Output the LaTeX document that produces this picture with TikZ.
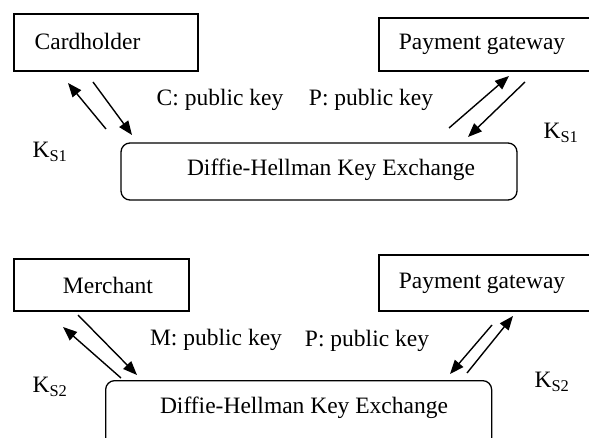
\documentclass[tikz,border=0pt]{standalone}
\usepackage{fontspec}
\setmainfont{Liberation Serif}
\usetikzlibrary{arrows.meta}
\begin{document}
\begin{tikzpicture}[x=1pt,y=-1pt,
  lbl/.style={font=\fontsize{23.5}{26}\selectfont, inner sep=0pt},
  party/.style={draw, line width=1.8pt, inner sep=0pt},
  dhbox/.style={draw, line width=1.3pt, rounded corners=9pt, inner sep=0pt},
  arr/.style={line width=1.4pt, -{Triangle[length=14pt,width=11pt]}}
]
\useasboundingbox (0,0) rectangle (589,438);
\clip (0,0) rectangle (589,438);
% ---------- top part ----------
\node[party, minimum width=184pt, minimum height=57pt] (card) at (106,42.5) {};
\node[lbl] (cardt) at (87.5,41) {Cardholder};
\node[party, minimum width=220pt, minimum height=53pt, anchor=west] (pg1) at (378,44.5) {};
\node[lbl] (pg1t) at (482,44) {Payment gateway};
\node[dhbox, minimum width=396pt, minimum height=57pt] (dh1) at (319,171.5) {};
\node[lbl] (dh1t) at (331,170) {Diffie-Hellman Key Exchange};
\node[lbl] (cpk) at (220,100) {C: public key};
\node[lbl] (ppk1) at (371,100) {P: public key};
\node[lbl] (ks1a) at (50,152) {K\textsubscript{S1}};
\node[lbl] (ks1b) at (561,133) {K\textsubscript{S1}};
\coordinate (a1s) at (106,129); \coordinate (a1e) at (68,83);
\coordinate (a2s) at (93,82);   \coordinate (a2e) at (132,135);
\coordinate (a3s) at (449,128); \coordinate (a3e) at (509,76);
\coordinate (a4s) at (525,82);  \coordinate (a4e) at (468,137);
\draw[arr] (a1s) -- (a1e);
\draw[arr] (a2s) -- (a2e);
\draw[arr] (a3s) -- (a3e);
\draw[arr] (a4s) -- (a4e);
% ---------- bottom part ----------
\node[party, minimum width=175pt, minimum height=52pt] (merch) at (101.5,285) {};
\node[lbl] (mercht) at (108,285) {Merchant};
\node[party, minimum width=220pt, minimum height=56pt, anchor=west] (pg2) at (378,283) {};
\node[lbl] (pg2t) at (482,283) {Payment gateway};
\node[dhbox, minimum width=386pt, minimum height=70pt, anchor=north west] (dh2) at (105,380) {};
\node[lbl] (dh2t) at (304,408) {Diffie-Hellman Key Exchange};
\node[lbl] (mpk) at (216,340) {M: public key};
\node[lbl] (ppk2) at (367,341) {P: public key};
\node[lbl] (ks2a) at (50,387) {K\textsubscript{S2}};
\node[lbl] (ks2b) at (552,382) {K\textsubscript{S2}};
\coordinate (a5s) at (121,378); \coordinate (a5e) at (63,327);
\coordinate (a6s) at (78,315);  \coordinate (a6e) at (137,375);
\coordinate (a7s) at (492,325); \coordinate (a7e) at (450,374);
\coordinate (a8s) at (467,373); \coordinate (a8e) at (513,316);
\draw[arr] (a5s) -- (a5e);
\draw[arr] (a6s) -- (a6e);
\draw[arr] (a7s) -- (a7e);
\draw[arr] (a8s) -- (a8e);
\end{tikzpicture}
\end{document}
